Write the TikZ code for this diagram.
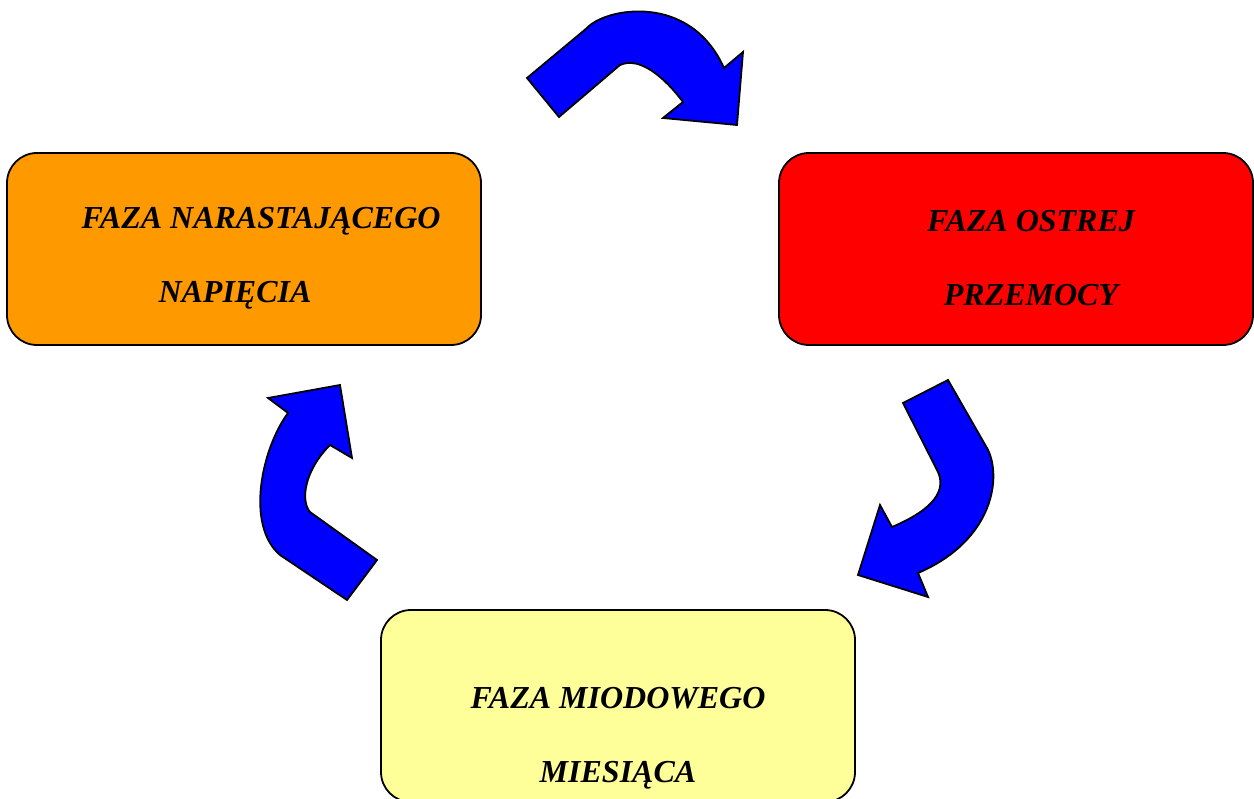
\documentclass[tikz,border=0pt]{standalone}
\usepackage{fontspec}
\setmainfont{Liberation Serif}
\definecolor{phaseorange}{HTML}{FF9900}
\definecolor{phasered}{HTML}{FF0000}
\definecolor{phaseyellow}{HTML}{FFFF99}
\definecolor{arrowblue}{HTML}{0000FF}
\newcommand{\droptext}[1]{\rule{0pt}{#1}}
\begin{document}
\begin{tikzpicture}[x=1pt, y=-1pt,
  phasebox/.style={draw, line width=1.8pt, rounded corners=30pt, minimum width=474pt, minimum height=192pt, align=center, inner sep=0pt, font=\fontsize{32}{74}\selectfont\bfseries\itshape},
  bentarrow/.style={draw, line width=1.8pt, fill=arrowblue, line join=miter}]
% Set the page size
\useasboundingbox (0,0) rectangle (1254,799);

% Draw the three phases
\node[phasebox, fill=phaseorange] (tension) at (244,249) {\droptext{40pt}\hspace*{34pt}FAZA NARASTAJĄCEGO\\\hspace*{-18pt}NAPIĘCIA};
\node[phasebox, fill=phasered] (violence) at (1016,249) {\droptext{40pt}\hspace*{30pt}FAZA OSTREJ\\\hspace*{30pt}PRZEMOCY};
\node[phasebox, fill=phaseyellow] (honeymoon) at (618,706) {\droptext{86pt}FAZA MIODOWEGO\\MIESIĄCA};

% Draw the bent arrows between them
\draw[bentarrow] (527,78) -- (587,28) .. controls (605,8) and (690,-8) .. (724,68) -- (743,52) -- (737,125) -- (663,118) -- (683,102) .. controls (665,78) and (640,56) .. (620,65) -- (559,117) -- cycle;
\draw[bentarrow] (903,403) -- (948,380) -- (987,448) .. controls (1002,475) and (995,540) .. (918,573) -- (928,597) -- (858,575) -- (880,505) -- (892,527) .. controls (925,513) and (948,495) .. (938,472) -- cycle;
\draw[bentarrow] (347,600) -- (377,560) -- (310,512) .. controls (300,500) and (305,470) .. (330,445) -- (352,458) -- (340,385) -- (268,398) -- (288,413) .. controls (262,448) and (245,525) .. (280,555) -- cycle;
\end{tikzpicture}
\end{document}
